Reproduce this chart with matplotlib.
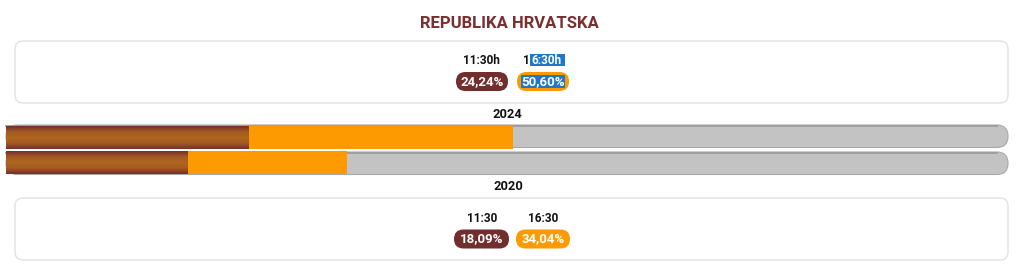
import numpy as np
import matplotlib.pyplot as plt
from matplotlib.patches import FancyBboxPatch
from matplotlib.colors import LinearSegmentedColormap

plt.rcParams['font.family'] = ['Roboto', 'DejaVu Sans']

# podaci
naslov = "REPUBLIKA HRVATSKA"
godine = ["2024", "2020"]
sati_2024 = ["11:30h", "16:30h"]
sati_2020 = ["11:30", "16:30"]
izlaznost_1130 = [24.24, 18.09]
izlaznost_1630 = [50.60, 34.04]

SMEDJA = '#722d2d'
NARANCASTA = '#fd9a02'
SIVA = '#c3c3c3'
PLAVA = '#1e78c8'


def fmt(v):
    return f"{v:.2f}".replace('.', ',') + '%'


fig = plt.figure(figsize=(10.24, 2.75), dpi=100)
ax = fig.add_axes([0, 0, 1, 1])
ax.set_xlim(0, 1024)
ax.set_ylim(275, 0)
ax.axis('off')

ax.text(509, 24, naslov, ha='center', va='center', fontsize=12, fontweight='bold', color='#7a2f2f')

# okviri
for y0 in (41, 198):
    ax.add_patch(FancyBboxPatch((15, y0), 993, 62, boxstyle="round,pad=0,rounding_size=8",
                                fc='white', ec='#e2e2e2', lw=1))

# sive podloge traka
for y0 in (125, 152):
    ax.add_patch(FancyBboxPatch((6, y0), 1002, 22.5, boxstyle="round,pad=0,rounding_size=11",
                                fc=SIVA, ec='#a9a9a9', lw=0.8))
    ax.plot([6, 997], [y0 + 0.8, y0 + 0.8], color='#9a9a9a', lw=1.2)


def pilula(x0, x1, yc, boja):
    ax.add_patch(FancyBboxPatch((x0, yc - 9.5), x1 - x0, 19, boxstyle="round,pad=0,rounding_size=9.5",
                                fc=boja, ec='none'))


# gornji okvir (2024)
ax.text(481.5, 60, sati_2024[0], ha='center', va='center', fontsize=8.5, fontweight='bold', color='#111111')
ax.add_patch(plt.Rectangle((530, 54), 35, 12, fc=PLAVA, ec='none'))
ax.text(523.5, 60, sati_2024[1][0], ha='left', va='center', fontsize=8.5, fontweight='bold', color='#111111')
ax.text(531.5, 60, sati_2024[1][1:], ha='left', va='center', fontsize=8.5, fontweight='bold', color='white')
pilula(456, 508, 81.5, SMEDJA)
pilula(517, 569, 81.5, NARANCASTA)
ax.add_patch(plt.Rectangle((521, 75), 44, 13, fc=PLAVA, ec='none'))
ax.text(482, 81.5, fmt(izlaznost_1130[0]), ha='center', va='center', fontsize=9.5, fontweight='bold', color='white')
ax.text(543, 81.5, fmt(izlaznost_1630[0]), ha='center', va='center', fontsize=9.5, fontweight='bold', color='white')

# donji okvir (2020)
ax.text(482, 218, sati_2020[0], ha='center', va='center', fontsize=8.5, fontweight='bold', color='#111111')
ax.text(543, 218, sati_2020[1], ha='center', va='center', fontsize=8.5, fontweight='bold', color='#111111')
pilula(454, 509, 239, SMEDJA)
pilula(516, 570, 239, NARANCASTA)
ax.text(481.5, 239, fmt(izlaznost_1130[1]), ha='center', va='center', fontsize=9.5, fontweight='bold', color='white')
ax.text(543, 239, fmt(izlaznost_1630[1]), ha='center', va='center', fontsize=9.5, fontweight='bold', color='white')

ax.text(507.5, 115, godine[0], ha='center', va='center', fontsize=9.3, fontweight='bold', color='#111111')
ax.text(508, 186, godine[1], ha='center', va='center', fontsize=9.3, fontweight='bold', color='#111111')

# trake
bx = fig.add_axes([6 / 1024, (275 - 175) / 275, 1002 / 1024, 50 / 275])
bx.set_xlim(0, 100)
bx.set_ylim(1.5, -0.5)
bx.axis('off')
bx.patch.set_alpha(0)

gradijent = LinearSegmentedColormap.from_list('smedja', ['#76302c', '#a45a22', '#b0661e', '#a45a22', '#76302c'])
grad = np.linspace(0, 1, 64).reshape(-1, 1)
v = 0.9
for i in range(len(godine)):
    bx.barh(i, izlaznost_1630[i], height=v, color=NARANCASTA, lw=0)
    bx.imshow(grad, cmap=gradijent, aspect='auto', interpolation='bilinear',
              extent=[0, izlaznost_1130[i], i + v / 2, i - v / 2], zorder=3)
bx.set_xlim(0, 100)
bx.set_ylim(1.5, -0.5)

fig.savefig('out.png', dpi=100)
